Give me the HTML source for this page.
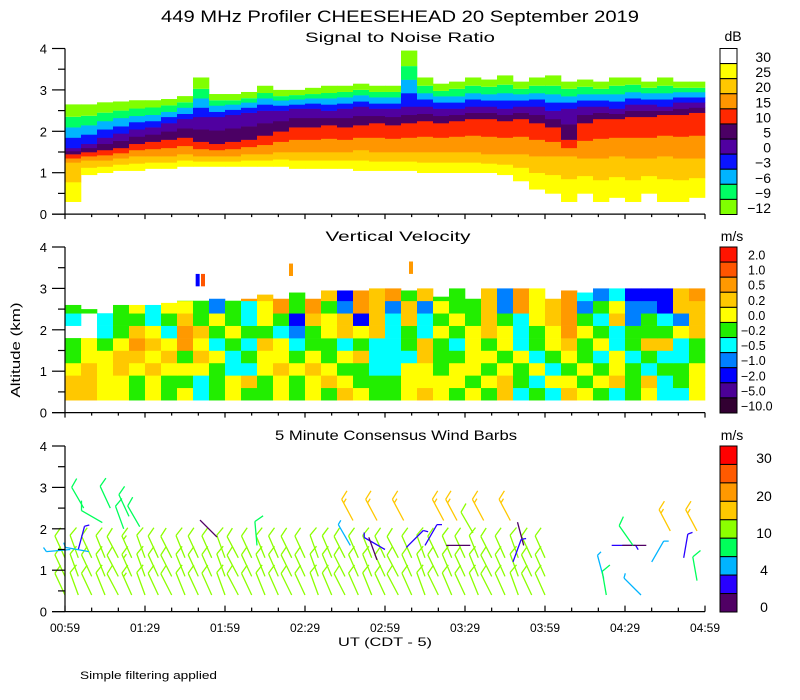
<!DOCTYPE html>
<html><head><meta charset="utf-8"><style>
html,body{margin:0;padding:0;background:#fff}
svg{display:block;font-family:"Liberation Sans",sans-serif}
</style></head><body>
<svg id="chart" width="800" height="700" viewBox="0 0 800 700" xmlns="http://www.w3.org/2000/svg">
<rect width="800" height="700" fill="#fff"/>
<text x="400" y="22" text-anchor="middle" font-size="17" textLength="478" lengthAdjust="spacingAndGlyphs">449 MHz Profiler CHEESEHEAD 20 September 2019</text>
<text x="400" y="42" text-anchor="middle" font-size="14" textLength="190" lengthAdjust="spacingAndGlyphs">Signal to Noise Ratio</text>
<text x="398" y="241" text-anchor="middle" font-size="14" textLength="145" lengthAdjust="spacingAndGlyphs">Vertical Velocity</text>
<text x="396" y="440" text-anchor="middle" font-size="14" textLength="242" lengthAdjust="spacingAndGlyphs">5 Minute Consensus Wind Barbs</text>
<text transform="translate(20,350) rotate(-90)" text-anchor="middle" font-size="13" textLength="95" lengthAdjust="spacingAndGlyphs">Altitude (km)</text>
<text x="385" y="646" text-anchor="middle" font-size="12" textLength="94" lengthAdjust="spacingAndGlyphs">UT  (CDT - 5)</text>
<text x="80" y="679" font-size="11" textLength="137" lengthAdjust="spacingAndGlyphs">Simple filtering applied</text>
<g id="g-snr"></g>
<g id="g-vv"></g>
<g id="g-wind"></g>
<g id="g-axes"></g>
<g id="g-cbar"></g>
</svg>
<script>
// ---------- data ----------
const snrTop=[2.65,2.65,2.7,2.72,2.75,2.75,2.78,2.85,3.3,2.9,2.9,2.95,3.1,3.0,3.0,3.05,3.1,3.1,3.15,3.1,3.1,3.95,3.3,3.15,3.2,3.3,3.25,3.35,3.2,3.3,3.35,3.2,3.25,3.2,3.3,3.3,3.2,3.3,3.2,3.2];
const snrH0=[1.6,1.7,1.85,1.95,2.05,2.1,2.2,2.3,2.35,2.35,2.4,2.45,2.5,2.5,2.55,2.55,2.5,2.55,2.6,2.55,2.55,2.6,2.6,2.55,2.55,2.6,2.6,2.55,2.6,2.6,2.5,2.55,2.6,2.6,2.55,2.65,2.65,2.6,2.7,2.7];
const snrH10=[1.45,1.5,1.55,1.6,1.7,1.75,1.8,1.85,1.75,1.7,1.75,1.8,1.9,2.0,2.1,2.1,2.15,2.1,2.15,2.2,2.15,2.2,2.25,2.2,2.25,2.3,2.3,2.25,2.3,2.2,2.1,1.8,2.2,2.3,2.3,2.35,2.35,2.4,2.4,2.45];
const snrH20=[1.25,1.3,1.3,1.35,1.4,1.4,1.4,1.45,1.4,1.4,1.4,1.45,1.45,1.5,1.5,1.5,1.5,1.5,1.55,1.5,1.5,1.5,1.5,1.5,1.5,1.5,1.45,1.45,1.45,1.4,1.4,1.4,1.35,1.35,1.4,1.35,1.35,1.4,1.35,1.35];
const snrH30=[0.3,0.95,1.0,1.05,1.05,1.1,1.1,1.15,1.15,1.15,1.15,1.15,1.15,1.15,1.1,1.1,1.1,1.1,1.05,1.05,1.05,1.05,1.0,1.0,1.0,1.0,1.0,0.95,0.8,0.6,0.5,0.3,0.5,0.3,0.4,0.3,0.5,0.3,0.3,0.4];
const snrTicks=["30","25","20","15","10","5","0","\u22123","\u22126","\u22129","\u221212"];

const Y=0.1,G=0.3,O=0.7,g=-0.1,c=-0.3,l=-0.7,b=-1.5,N=null;
const vvTop=[2.6,2.5,2.6,2.6,2.6,2.6,2.65,2.7,2.7,2.75,2.7,2.75,2.85,2.75,2.9,2.75,2.95,2.95,2.95,3.0,3.0,2.95,3.0,2.8,3.0,2.75,3.0,3.0,3.0,3.0,2.75,2.95,2.9,3.0,3.0,3.0,3.1,3.05,3.0,3.0];
const vvRow0=[G,G,Y,Y,g,Y,g,Y,c,g,Y,g,g,Y,g,Y,g,G,Y,g, g,Y,G,Y,g,Y,g,G,c,g,c,G,Y,g,c,g,Y,c,c,Y];
const vvRow1=[G,G,Y,Y,g,Y,g,g,c,g,Y,G,g,Y,g,Y,G,Y,g,g, g,Y,Y,Y,Y,g,Y,G,g,c,Y,Y,g,Y,G,g,G,c,g,Y];
const vvRow2=[Y,G,Y,G,Y,G,Y,Y,Y,g,c,c,Y,G,Y,G,Y,g,g,c, c,Y,Y,g,Y,Y,g,Y,g,Y,c,g,Y,g,Y,g,c,g,g,Y];
const vvRow3=[g,Y,Y,G,G,Y,G,g,G,Y,c,g,Y,Y,g,Y,g,Y,G,c, c,c,G,g,g,Y,Y,g,Y,c,g,Y,g,c,Y,c,g,c,c,g];
const vvRow4=[g,Y,g,Y,O,G,Y,O,Y,c,g,c,G,Y,c,g,g,c,g,c, c,g,G,g,c,Y,g,Y,c,g,Y,G,g,Y,c,g,G,G,c,g];
const vvRow5=[N,N,c,g,G,Y,c,O,G,g,Y,g,g,c,l,g,Y,G,Y,G, c,g,c,Y,g,Y,G,Y,c,g,Y,O,Y,g,c,g,g,g,Y,G];
const vvRow6=[c,N,c,g,g,c,g,G,g,Y,g,c,Y,g,b,G,Y,G,b,G, c,G,c,g,Y,g,G,g,c,Y,G,O,g,c,G,l,g,c,l,G];
const vvRow7=[g,g,N,g,Y,c,Y,Y,g,l,g,c,Y,O,g,O,g,l,O,G, l,G,l,Y,g,g,G,l,O,Y,G,O,l,g,Y,l,l,b,G,G];
const vvRow8=[g,g,g,g,g,g,g,g,g,l,g,O,G,O,g,O,G,b,O,G, O,g,G,g,g,g,G,l,O,Y,G,O,c,l,c,b,b,b,G,O];
const vvSpotT=[49,51,84,129];
const vvSpotH=[3.05,3.05,3.3,3.35];
const vvSpotV=[-1.5,1.5,0.7,0.7];
const vvTicks=["2.0","1.0","0.5","0.2","0.0","\u22120.2","\u22120.5","\u22121.0","\u22122.0","\u22125.0","\u221210.0"];

const lowT=[0,5,10,15,20,25,30,35,40,45,50,55,60,65,70,75,80,85,90,95,100,105,110,115,120,125,130,135,140,145,150,155,160,165,170,175,180];
const lowSpd=[12,12,11,12,12,13,12,12,12,11,12,12,12,12,11,12,12,12,12,12,11,12,12,12,12,12,12,12,12,12,12,11,12,12,12,11,12];
const lowDir=[335,340,335,338,332,336,340,335,333,338,335,336,340,332,335,338,336,334,335,340,337,333,336,338,335,332,336,340,334,337,335,338,333,336,340,335,336];
const lowLevels=[0.4,0.85,1.3];
const extraT=[7,17,14,24,28,22,2,5,9,57,72,108,117,127,142,147,157,167,153,107,120,128,117,135,152,172,168,227,237,205,218,220,232,237,202,203,216,213];
const extraH=[2.5,2.5,2.15,2.3,2.05,2.0,1.5,1.5,1.45,1.8,1.6,2.2,2.2,2.2,2.2,2.2,2.2,2.2,1.9,1.6,1.5,1.55,1.25,1.6,1.6,1.6,1.2,1.95,1.95,1.6,1.6,1.2,1.3,0.75,0.8,0.4,0.4,1.6];
const extraSpd=[9,9,9,9,9,9,5,3,5,1.5,9,17,17,17,17,17,17,17,12,5,3,3,1.5,3,1.5,1.5,3,17,17,3,1.5,5,3,9,5,9,5,9];
const extraDir=[330,335,300,335,330,340,265,15,280,315,355,332,332,332,332,332,332,332,330,330,300,45,340,30,270,345,20,332,332,90,270,30,10,350,345,350,315,325];
const windTicks=["30","20","10","4","0"];
const timeLabels=["00:59","01:29","01:59","02:29","02:59","03:29","03:59","04:29","04:59"];

// ---------- geometry ----------
const NS="http://www.w3.org/2000/svg";
const X0=65,X1=705,TMAX=240,KM=41.4;
const bases=[214.1,412.6,611.6];
const xOf=t=>X0+t*(X1-X0)/TMAX;
const yOf=(p,h)=>bases[p]-h*KM;
const COLW=(X1-X0)/snrTop.length;
function mk(tag,attrs,parent){const e=document.createElementNS(NS,tag);for(const k in attrs)e.setAttribute(k,attrs[k]);parent.appendChild(e);return e;}

const snrColors=["#ffffff","#ffff00","#ffc800","#ff9600","#ff2800","#4b0064","#5000a0","#0a14ff","#00b4ff","#00ff64","#80ff00"];
function snrColor(v){if(v>30)return snrColors[0];if(v>25)return snrColors[1];if(v>20)return snrColors[2];if(v>15)return snrColors[3];if(v>10)return snrColors[4];if(v>5)return snrColors[5];if(v>0)return snrColors[6];if(v>-3)return snrColors[7];if(v>-6)return snrColors[8];if(v>-9)return snrColors[9];return snrColors[10];}
function lerp(z,a,b,va,vb){return b>a?va+(vb-va)*(z-a)/(b-a):vb;}
function snrVal(i,z){
  if(z<snrH30[i])return 31;
  if(z<snrH20[i])return lerp(z,snrH30[i],snrH20[i],30,20);
  if(z<snrH10[i])return lerp(z,snrH20[i],snrH10[i],20,10);
  if(z<snrH0[i])return lerp(z,snrH10[i],snrH0[i],10,0);
  return lerp(z,snrH0[i],snrTop[i],0,-12.5);
}
// SNR heatmap
const gS=document.getElementById('g-snr');
for(let i=0;i<snrTop.length;i++){
  const step=0.025;let segStart=0.3,segCol=null;
  for(let z=0.3;z<=snrTop[i]+1e-9;z+=step){
    const col=snrColor(snrVal(i,z+step/2));
    if(col!==segCol){
      if(segCol!==null&&segCol!=="#ffffff"){const r=mk('rect',{x:xOf(0)+i*COLW,y:yOf(0,z),width:COLW+0.3,height:(z-segStart)*KM+0.3,fill:segCol},gS);}
      segCol=col;segStart=z;
    }
  }
  if(segCol&&segCol!=="#ffffff"){const r=mk('rect',{x:xOf(0)+i*COLW,y:yOf(0,snrTop[i]),width:COLW+0.3,height:(snrTop[i]-segStart)*KM,fill:segCol},gS);}
}
// VV heatmap
const vvColors=["#ff1400","#ff5500","#ff9900","#ffc800","#ffff00","#22ee00","#00ffff","#0080ff","#0000ff","#4b0096","#320032"];
function vvColor(v){if(v>2)return vvColors[0];if(v>1)return vvColors[1];if(v>0.5)return vvColors[2];if(v>0.2)return vvColors[3];if(v>0)return vvColors[4];if(v>-0.2)return vvColors[5];if(v>-0.5)return vvColors[6];if(v>-1)return vvColors[7];if(v>-2)return vvColors[8];if(v>-5)return vvColors[9];return vvColors[10];}
const vvRows=[vvRow0,vvRow1,vvRow2,vvRow3,vvRow4,vvRow5,vvRow6,vvRow7,vvRow8];
const gV=document.getElementById('g-vv');
for(let r=0;r<vvRows.length;r++){
  for(let i=0;i<vvTop.length;i++){
    const v=vvRows[r][i];if(v===null)continue;
    const z0=0.3+0.3*r,z1=Math.min(z0+0.3,vvTop[i]);if(z1<=z0)continue;
    const e=mk('rect',{x:xOf(0)+i*COLW,y:yOf(1,z1),width:COLW+0.3,height:(z1-z0)*KM+0.3,fill:vvColor(v)},gV);
    
    
  }
}
for(let k=0;k<vvSpotT.length;k++){
  const e=mk('rect',{x:xOf(vvSpotT[k]),y:yOf(1,vvSpotH[k]+0.3),width:4,height:0.3*KM,fill:vvColor(vvSpotV[k])},gV);
  
  
}
// Wind barbs
const windColors=["#500064","#2800ff","#00b4ff","#00ff5a","#8cff00","#ffc800","#ff9900","#ff5a00","#ff0000"];
const windBins=[2,4,7,10,15,20,25,30];
function windColor(s){let k=0;while(k<windBins.length&&s>=windBins[k])k++;return windColors[k];}
const gW=document.getElementById('g-wind');
function barb(t,h,spd,dir){
  const x=xOf(t),y=yOf(2,h),L=24,a=dir*Math.PI/180;
  const ux=Math.sin(a),uy=-Math.cos(a);
  const ex=x+ux*L,ey=y+uy*L;
  const th=60*Math.PI/180;
  const bx=ux*Math.cos(th)-uy*Math.sin(th),by=ux*Math.sin(th)+uy*Math.cos(th);
  const col=windColor(spd);
  let d=`M${x.toFixed(1)},${y.toFixed(1)}L${ex.toFixed(1)},${ey.toFixed(1)}`;
  const n=Math.round(spd/5),full=Math.floor(n/2),half=n%2;
  let off=0;
  for(let f=0;f<full;f++){const sx=ex-ux*off,sy=ey-uy*off;d+=`M${sx.toFixed(1)},${sy.toFixed(1)}l${(bx*10).toFixed(1)},${(by*10).toFixed(1)}`;off+=4;}
  if(half){const sx=ex-ux*off,sy=ey-uy*off;d+=`M${sx.toFixed(1)},${sy.toFixed(1)}l${(bx*5).toFixed(1)},${(by*5).toFixed(1)}`;}
  const p=mk('path',{d:d,stroke:col,'stroke-width':1.3,fill:'none'},gW);
  
  
}
for(let i=0;i<lowT.length;i++)for(const h of lowLevels)barb(lowT[i],h,lowSpd[i],lowDir[i]);
for(let k=0;k<extraT.length;k++)barb(extraT[k],extraH[k],extraSpd[k],extraDir[k]);

// Axes
const gA=document.getElementById('g-axes');
for(let p=0;p<3;p++){
  const top=yOf(p,4),bot=bases[p];
  mk('line',{x1:X0,y1:top,x2:X0,y2:bot,stroke:'#000','stroke-width':1.2},gA);
  mk('line',{x1:52,y1:bot,x2:X1,y2:bot,stroke:'#000','stroke-width':1.2},gA);
  for(let h=0;h<=4;h+=0.5){
    const yy=yOf(p,h),major=Number.isInteger(h);
    mk('line',{x1:major?52:58,y1:yy,x2:X0,y2:yy,stroke:'#000','stroke-width':1.2},gA);
    if(major){const t=mk('text',{x:47,y:yy+5,'text-anchor':'end','font-size':13},gA);t.textContent=String(h);}
  }
  for(let m=0;m<=TMAX;m+=10){
    const xx=xOf(m),major=m%30===0;
    const len=major?5:3;
    if(p<2)mk('line',{x1:xx,y1:bot,x2:xx,y2:bot+len,stroke:'#000','stroke-width':1.2},gA);
    else mk('line',{x1:xx,y1:bot,x2:xx,y2:bot-len-1,stroke:'#000','stroke-width':1.2},gA);
  }
}
timeLabels.forEach((s,k)=>{const t=mk('text',{x:xOf(k*30),y:632,'text-anchor':'middle','font-size':12},gA);t.textContent=s;});

// Colorbars
const gC=document.getElementById('g-cbar');
function cbar(top,bot,colors,name){
  const n=colors.length,hgt=(bot-top)/n;
  colors.forEach((c,k)=>{const r=mk('rect',{x:720,y:top+k*hgt,width:17,height:hgt,fill:c,stroke:'#000','stroke-width':1},gC);});
  return hgt;
}
let hg=cbar(48.5,214.5,snrColors,'snr-colorbar');
snrTicks.forEach((s,k)=>{const t=mk('text',{x:771,y:48.5+k*hg+hg/2+6,'text-anchor':'end','font-size':14},gC);t.textContent=s;});
hg=cbar(247,413,vvColors.slice(),'vv-colorbar');
vvTicks.forEach((s,k)=>{const t=mk('text',{x:s[0]==='\u2212'?741:748,y:247+k*hg+hg/2+5,'font-size':12.5},gC);t.textContent=s;});
cbar(446,612,windColors.slice().reverse(),'wind-colorbar');
const wy=[458,496,533,570,607];
windTicks.forEach((s,k)=>{const t=mk('text',{x:764,y:wy[k]+5,'text-anchor':'middle','font-size':14},gC);t.textContent=s;});
[["dB",733,41],["m/s",732,241],["m/s",732,440]].forEach(([s,x,y])=>{const t=mk('text',{x:x,y:y,'text-anchor':'middle','font-size':14},gC);t.textContent=s;});
</script>
</body></html>
